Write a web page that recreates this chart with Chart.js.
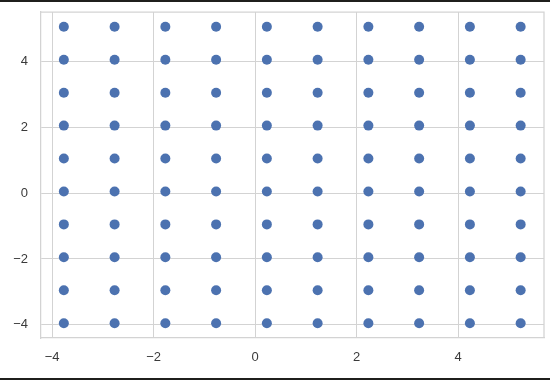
<!DOCTYPE html>
<html>
<head>
<meta charset="utf-8">
<script src="https://cdn.jsdelivr.net/npm/chart.js@4/dist/chart.umd.min.js"></script>
<style>
  html, body { margin: 0; padding: 0; background: #fff; }
  #wrap { position: relative; width: 550px; height: 380px; }
  .bar { position: absolute; left: 0; width: 550px; background: #1f1f1c; }
</style>
</head>
<body>
<div id="wrap">
  <canvas id="gridChart" width="550" height="380"></canvas>
  <div class="bar" style="top:0;height:2px"></div>
  <div class="bar" style="bottom:0;height:2px"></div>
</div>
<script>
// Scatter grid: every x column crossed with every y row

const xValues = [-3.77, -2.77, -1.77, -0.77, 0.23, 1.23, 2.23, 3.23, 4.23, 5.23];
const yValues = [-3.95, -2.95, -1.95, -0.95, 0.05, 1.05, 2.05, 3.05, 4.05, 5.05];
const xTicks = [-4, -2, 0, 2, 4];
const yTicks = [-4, -2, 0, 2, 4];

const points = [];
xValues.forEach(x => yValues.forEach(y => points.push({ x, y })));

const gridColor = '#d3d3d3';
const fmt = v => String(v).replace('-', '\u2212');

function makeAxis(ticksList, min, max, pad) {
  return {
    type: 'linear',
    min, max,
    afterBuildTicks: scale => { scale.ticks = ticksList.map(v => ({ value: v })); },
    grid: { color: gridColor, lineWidth: 1, drawTicks: false },
    border: { color: gridColor, width: 1.25 },
    ticks: {
      padding: pad,
      color: '#3a3a3a',
      font: { family: 'Liberation Sans, Arial, sans-serif', size: 13 },
      callback: v => fmt(v)
    }
  };
}

const x = makeAxis(xTicks, -4.22, 5.69, 12);
x.afterFit = s => { s.height = 42; s.paddingLeft = 0; s.paddingRight = 0; };
const y = makeAxis(yTicks, -4.40, 5.50, 13);
y.afterFit = s => { s.width = 41; s.paddingTop = 0; s.paddingBottom = 0; };

// top and right edges of the frame
const frame = {
  id: 'frame',
  beforeDatasetsDraw(chart) {
    const { ctx, chartArea: a } = chart;
    ctx.save();
    ctx.strokeStyle = gridColor;
    ctx.lineWidth = 1.25;
    ctx.beginPath();
    ctx.moveTo(a.left, a.top);
    ctx.lineTo(a.right, a.top);
    ctx.lineTo(a.right, a.bottom);
    ctx.stroke();
    ctx.restore();
  }
};

new Chart(document.getElementById('gridChart'), {
  type: 'scatter',
  data: {
    datasets: [{
      data: points,
      backgroundColor: '#4c72b0',
      borderWidth: 0,
      pointRadius: 5,
      pointHoverRadius: 5
    }]
  },
  options: {
    responsive: false,
    animation: false,
    layout: { padding: { left: 0, right: 6, top: 12, bottom: 0 } },
    plugins: { legend: { display: false }, tooltip: { enabled: false } },
    scales: { x, y }
  },
  plugins: [frame]
});
</script>
</body>
</html>
